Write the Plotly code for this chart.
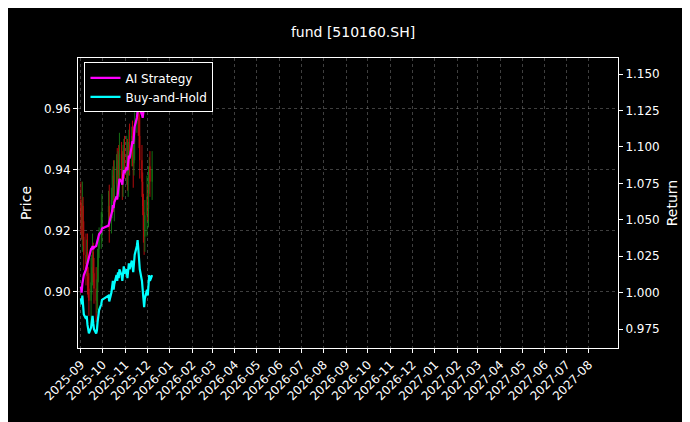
import plotly.graph_objects as go
import pandas as pd

dates = ([d for d in pd.bdate_range("2025-09-01", "2025-09-30")] +
         [d for d in pd.bdate_range("2025-10-09", "2025-10-31")] +
         [d for d in pd.bdate_range("2025-11-03", "2025-11-28")] +
         [d for d in pd.bdate_range("2025-12-01", "2025-12-08")])

close = [0.925,0.921,0.928,0.918,0.912,0.909,0.913,0.905,0.901,0.897,0.903,0.908,0.913,0.906,0.901,0.897,0.900,0.908,0.914,0.918,0.922,0.926,
         0.928,0.923,0.930,0.934,0.938,0.931,0.935,0.941,0.936,0.943,0.938,0.945,0.940,0.936,0.943,0.947,0.941,
         0.945,0.938,0.942,0.949,0.944,0.951,0.946,0.942,0.949,0.955,0.961,0.966,0.958,0.951,0.943,0.936,0.928,0.920,0.918,0.925,
         0.931,0.927,0.935,0.941,0.936,0.940]
open_ = [0.930] + close[:-1]
wick = [0.006,0.004,0.008,0.003,0.005,0.007,0.004,0.006,0.003,0.005,0.008,0.004,0.006,0.003,0.005,0.007,0.004,0.006,0.005,0.003,0.004,0.006,
        0.005,0.007,0.004,0.006,0.003,0.005,0.008,0.004,0.006,0.003,0.005,0.007,0.004,0.006,0.005,0.003,0.004,
        0.006,0.005,0.007,0.004,0.006,0.003,0.005,0.008,0.004,0.006,0.003,0.005,0.007,0.004,0.006,0.005,0.003,0.004,0.006,0.005,
        0.007,0.004,0.006,0.003,0.005,0.006]
high = [max(o, c) + w for o, c, w in zip(open_, close, wick)]
low = [min(o, c) - w for o, c, w in zip(open_, close, wick)]

bh = [0.996,0.992,0.998,0.990,0.985,0.982,0.984,0.978,0.975,0.972,0.976,0.980,0.984,0.979,0.975,0.972,0.974,0.980,0.985,0.988,0.992,0.995,
      0.998,0.994,1.000,1.004,1.008,1.002,1.006,1.012,1.008,1.014,1.010,1.016,1.012,1.008,1.014,1.018,1.013,
      1.016,1.010,1.014,1.020,1.016,1.022,1.018,1.014,1.020,1.026,1.032,1.036,1.030,1.024,1.016,1.008,1.000,0.992,0.990,0.996,
      1.002,0.998,1.006,1.012,1.008,1.012]
ai = [1.004,1.000,1.006,1.010,1.012,1.016,1.018,1.020,1.022,1.026,1.030,1.030,1.032,1.030,1.031,1.032,1.034,1.036,1.038,1.040,1.042,1.044,
      1.046,1.048,1.052,1.056,1.060,1.058,1.062,1.066,1.064,1.070,1.074,1.078,1.076,1.074,1.080,1.084,1.082,
      1.086,1.084,1.088,1.094,1.092,1.100,1.104,1.102,1.108,1.114,1.120,1.126,1.128,1.130,1.126,1.122,1.120,1.124,1.130,1.134,
      1.138,1.136,1.140,1.144,1.142,1.146]

tickvals = pd.date_range("2025-09-01", "2027-08-01", freq="MS")
ticktext = [d.strftime("%Y-%m") for d in tickvals]

fig = go.Figure()
fig.add_trace(go.Candlestick(x=dates, open=open_, high=high, low=low, close=close,
                             increasing=dict(line=dict(color="#1a8c1a", width=1), fillcolor="#1a8c1a"),
                             decreasing=dict(line=dict(color="#e01010", width=1), fillcolor="#e01010"),
                             whiskerwidth=0, showlegend=False, opacity=0.8))
fig.add_trace(go.Scatter(x=dates, y=ai, name="AI Strategy", yaxis="y2", mode="lines",
                         line=dict(color="#ff00ff", width=2.2)))
fig.add_trace(go.Scatter(x=dates, y=bh, name="Buy-and-Hold", yaxis="y2", mode="lines",
                         line=dict(color="#00ffff", width=2.2)))

grid = dict(showgrid=True, gridcolor="rgba(140,140,140,0.45)", griddash="dot", gridwidth=0.5)
tf = dict(color="white", size=12, family="DejaVu Sans")
fig.update_layout(
    width=690, height=422, paper_bgcolor="black", plot_bgcolor="black",
    font=dict(family="DejaVu Sans", color="white", size=12),
    margin=dict(l=70, r=80, t=50, b=82),
    title=dict(text="fund [510160.SH]", x=0.5, xanchor="center", y=0.955, font=dict(size=14)),
    xaxis=dict(range=["2025-08-28", "2027-09-10"], tickvals=tickvals, ticktext=ticktext,
               tickangle=-45, rangeslider=dict(visible=False), showline=True, linecolor="white",
               mirror=True, ticks="outside", tickcolor="white", ticklen=4, tickfont=tf, zeroline=False, **grid),
    yaxis=dict(title=dict(text="Price", standoff=8), range=[0.8815, 0.9765], tickformat=".2f",
               dtick=0.02, showline=True, linecolor="white", ticks="outside", tickcolor="white",
               ticklen=4, tickfont=tf, zeroline=False, **grid),
    yaxis2=dict(title=dict(text="Return", standoff=8), overlaying="y", side="right",
                range=[0.962, 1.161], tickformat=".3f", dtick=0.025, showgrid=False,
                showline=True, linecolor="white", ticks="outside", tickcolor="white", ticklen=4,
                tickfont=tf, zeroline=False),
    legend=dict(x=0.012, y=0.985, xanchor="left", yanchor="top", bgcolor="black",
                bordercolor="white", borderwidth=1, font=tf),
)
fig.write_html("out.html")
